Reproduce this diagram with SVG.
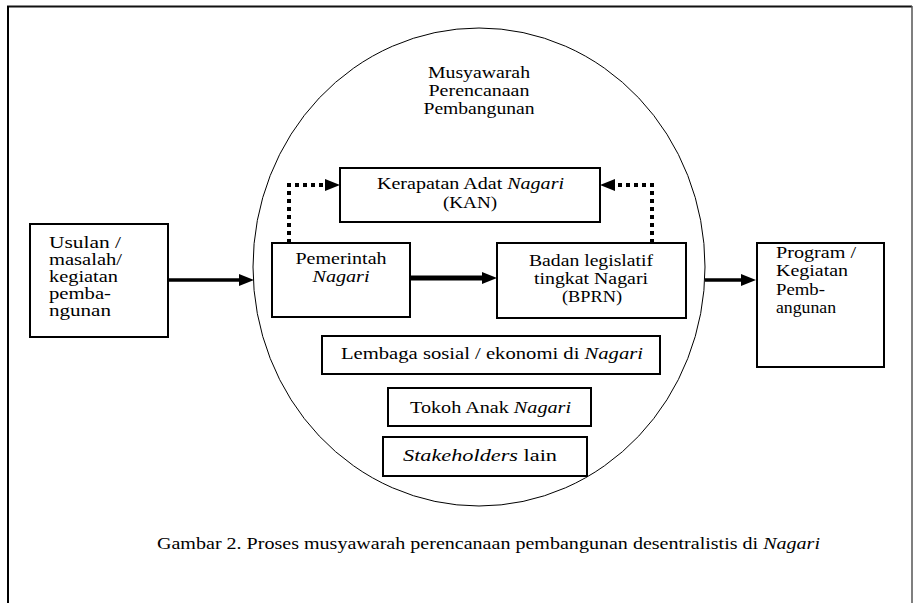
<svg xmlns="http://www.w3.org/2000/svg" width="915" height="603" viewBox="0 0 915 603" font-family="'Liberation Serif', 'Times New Roman', serif">
<defs>
<style>
text{font-family:"Liberation Serif","Times New Roman",serif;fill:#000;font-size:16px;}
.i{font-style:italic;}
.box{fill:#fff;stroke:#000;stroke-width:2;}
.solid{fill:none;stroke:#000;stroke-width:3.5;}
.thick{fill:none;stroke:#000;stroke-width:5;}
.dot{fill:none;stroke:#000;stroke-width:4;stroke-dasharray:4 4;}
</style>
<marker id="ah" markerUnits="userSpaceOnUse" markerWidth="16" markerHeight="14" refX="0" refY="6" orient="auto" viewBox="0 0 16 12">
<path d="M0,0 L15,6 L0,12 z" fill="#000"/>
</marker>
</defs>
<rect width="915" height="603" fill="#fff"/>
<g id="frame">
<line x1="7" y1="6.5" x2="912" y2="6.5" stroke="#111" stroke-width="2"/>
<line x1="8" y1="6" x2="8" y2="603" stroke="#000" stroke-width="2"/>
<line x1="912" y1="6" x2="912" y2="603" stroke="#555" stroke-width="1.5"/>
</g>
<g id="musyawarah">
<ellipse cx="479" cy="267" rx="226" ry="239" fill="none" stroke="#000" stroke-width="1"/>
<text text-anchor="middle" x="479" y="78" textLength="102" lengthAdjust="spacingAndGlyphs">Musyawarah</text>
<text text-anchor="middle" x="479" y="96" textLength="101" lengthAdjust="spacingAndGlyphs">Perencanaan</text>
<text text-anchor="middle" x="479" y="114" textLength="111" lengthAdjust="spacingAndGlyphs">Pembangunan</text>
</g>
<g id="usulan">
<rect class="box" x="30" y="224" width="138" height="113"/>
<text x="49" y="248" textLength="72" lengthAdjust="spacingAndGlyphs">Usulan /</text>
<text x="49" y="265" textLength="73" lengthAdjust="spacingAndGlyphs">masalah/</text>
<text x="49" y="282" textLength="69" lengthAdjust="spacingAndGlyphs">kegiatan</text>
<text x="49" y="299" textLength="62" lengthAdjust="spacingAndGlyphs">pemba-</text>
<text x="49" y="316" textLength="62" lengthAdjust="spacingAndGlyphs">ngunan</text>
</g>
<g id="kan">
<rect class="box" x="340" y="168" width="260" height="54"/>
<text x="377" y="189" textLength="187" lengthAdjust="spacingAndGlyphs">Kerapatan Adat <tspan class="i">Nagari</tspan></text>
<text text-anchor="middle" x="470" y="208" textLength="54" lengthAdjust="spacingAndGlyphs">(KAN)</text>
</g>
<g id="pemerintah">
<rect class="box" x="272" y="243" width="138" height="74"/>
<text text-anchor="middle" x="341" y="264" textLength="91" lengthAdjust="spacingAndGlyphs">Pemerintah</text>
<text class="i" text-anchor="middle" x="341" y="282" textLength="57" lengthAdjust="spacingAndGlyphs">Nagari</text>
</g>
<g id="bprn">
<rect class="box" x="497" y="243" width="189" height="75"/>
<text text-anchor="middle" x="591" y="266" textLength="124" lengthAdjust="spacingAndGlyphs">Badan legislatif</text>
<text text-anchor="middle" x="591" y="284" textLength="114" lengthAdjust="spacingAndGlyphs">tingkat Nagari</text>
<text text-anchor="middle" x="592" y="302" textLength="60" lengthAdjust="spacingAndGlyphs">(BPRN)</text>
</g>
<g id="program">
<rect class="box" x="757" y="243" width="127" height="124"/>
<text x="776" y="258" textLength="80" lengthAdjust="spacingAndGlyphs">Program /</text>
<text x="776" y="276" textLength="72" lengthAdjust="spacingAndGlyphs">Kegiatan</text>
<text x="776" y="295" textLength="49" lengthAdjust="spacingAndGlyphs">Pemb-</text>
<text x="776" y="313" textLength="60" lengthAdjust="spacingAndGlyphs">angunan</text>
</g>
<g id="lembaga">
<rect class="box" x="322" y="336" width="338" height="38"/>
<text x="341" y="359" textLength="302" lengthAdjust="spacingAndGlyphs">Lembaga sosial / ekonomi di <tspan class="i">Nagari</tspan></text>
</g>
<g id="tokoh">
<rect class="box" x="388" y="388" width="203" height="38"/>
<text x="410" y="413" textLength="161" lengthAdjust="spacingAndGlyphs">Tokoh Anak <tspan class="i">Nagari</tspan></text>
</g>
<g id="stakeholders">
<rect class="box" x="383" y="437" width="204" height="39"/>
<text x="403" y="461" textLength="154" lengthAdjust="spacingAndGlyphs"><tspan class="i">Stakeholders</tspan>  lain</text>
</g>
<g id="connectors">
<line class="solid" x1="168" y1="280" x2="239" y2="280" marker-end="url(#ah)"/>
<line class="thick" x1="410" y1="278" x2="482" y2="278" marker-end="url(#ah)"/>
<line class="solid" x1="705" y1="280" x2="741" y2="280" marker-end="url(#ah)"/>
<polyline class="dot" points="289,243 289,185 325,185" marker-end="url(#ah)"/>
<polyline class="dot" points="652,243 652,185 615,185" marker-end="url(#ah)"/>
</g>
<g id="caption">
<text x="157" y="549" style="font-size:17px" textLength="663" lengthAdjust="spacingAndGlyphs">Gambar 2. Proses musyawarah perencanaan pembangunan desentralistis di <tspan class="i">Nagari</tspan></text>
</g>
</svg>
